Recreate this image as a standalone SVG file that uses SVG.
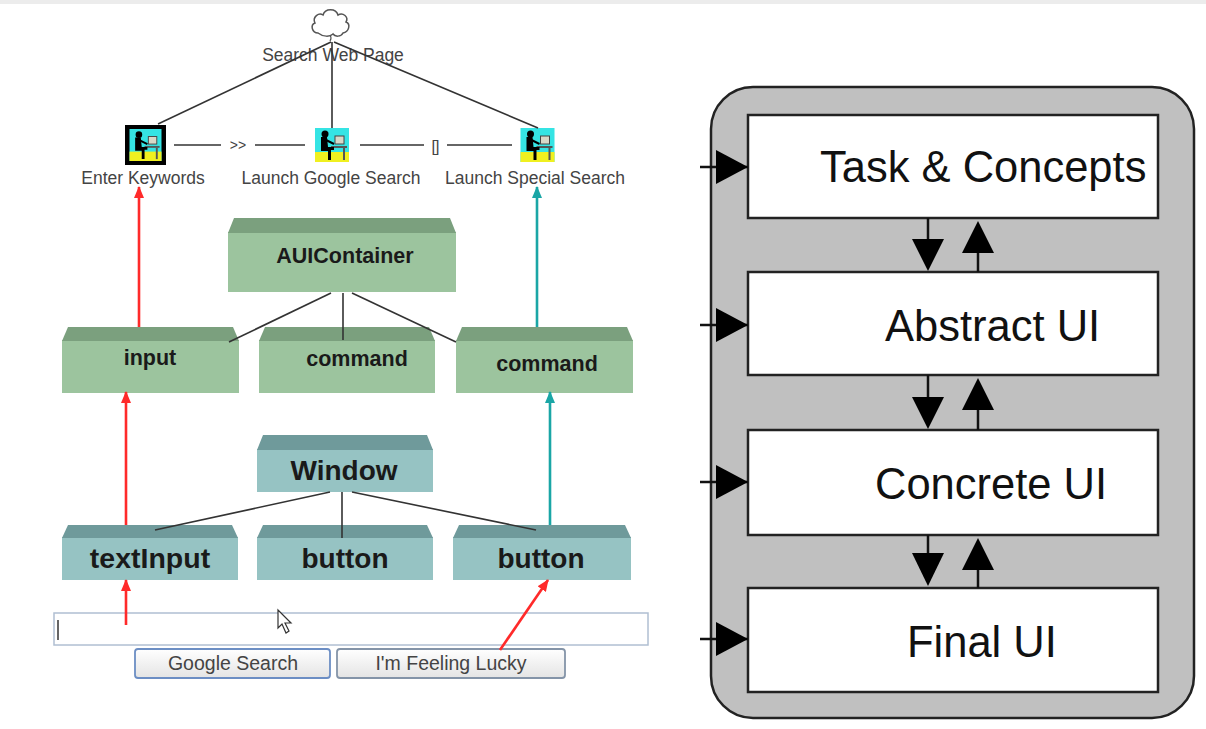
<svg xmlns="http://www.w3.org/2000/svg" width="1206" height="729" viewBox="0 0 1206 729">
<style>
.lbl{font-family:"Liberation Sans",Arial,sans-serif;font-size:17.5px;fill:#444}
.bx{font-family:"Liberation Sans",Arial,sans-serif;font-weight:bold;fill:#1a1a1a;text-anchor:middle}
.g1{fill:#9cc49e}
.g2{fill:#7ba07e}
.t1{fill:#96c3c3}
.t2{fill:#6f9a9b}
.ln{stroke:#333;stroke-width:1.6;fill:none}
.red{stroke:#ff2a2a;stroke-width:2.6;fill:none}
.teal{stroke:#1aa6a6;stroke-width:2.6;fill:none}
.big{font-family:"Liberation Sans",Arial,sans-serif;font-size:43.5px;fill:#111}
.wb{fill:#fff;stroke:#222;stroke-width:2.5}
.blk{fill:#000}
.btn{font-family:"Liberation Sans",Arial,sans-serif;font-size:19.5px;fill:#444;text-anchor:middle}
</style>
<defs>
<marker id="ar" viewBox="0 0 12 10" markerWidth="12" markerHeight="10" refX="11" refY="5" orient="auto" markerUnits="userSpaceOnUse"><path d="M0,0 L12,5 L0,10 z" fill="#ff2a2a"/></marker>
<marker id="at" viewBox="0 0 12 10" markerWidth="12" markerHeight="10" refX="11" refY="5" orient="auto" markerUnits="userSpaceOnUse"><path d="M0,0 L12,5 L0,10 z" fill="#1aa6a6"/></marker>
<symbol id="task" viewBox="0 0 34 34">
<rect width="34" height="34" fill="#35e4e4"/>
<rect y="24" width="34" height="10" fill="#f0f020"/>
<rect x="20" y="8" width="9" height="8" fill="#d8d8c8" stroke="#444" stroke-width="1"/>
<rect x="16" y="18" width="16" height="2" fill="#555"/>
<rect x="28" y="20" width="2" height="12" fill="#555"/>
<circle cx="10" cy="6" r="3.5" fill="#000"/>
<path d="M6,9 h6 l1,10 h6 v3 h-3 v10 h-3 v-9 h-7 z" fill="#000"/>
<path d="M11,12 l8,4" stroke="#000" stroke-width="2"/>
</symbol>
<linearGradient id="bg" x1="0" y1="0" x2="0" y2="1"><stop offset="0" stop-color="#ffffff"/><stop offset="1" stop-color="#e4e4e4"/></linearGradient>
</defs>
<rect width="1206" height="729" fill="#fff"/>
<rect width="1206" height="4" fill="#ececec"/>

<g id="search-web-page">
<path d="M318,33 c-6,0 -8,-8 -3,-10 c-3,-6 4,-11 8,-8 c2,-7 13,-7 15,0 c5,-3 11,2 8,7 c5,2 3,10 -3,11 c-2,4 -8,4 -10,1 c-3,3 -10,3 -15,-1 z" fill="#fff" stroke="#555" stroke-width="1.5"/>
<path d="M330,35 q2,3 0,6" stroke="#555" stroke-width="1.2" fill="none"/>
<text class="lbl" x="333" y="61" text-anchor="middle">Search Web Page</text>
</g>
<g id="enter-keywords">
<rect x="125" y="125" width="41" height="40" fill="#000"/>
<use href="#task" x="129" y="129" width="33" height="32"/>
<text class="lbl" x="143" y="184" text-anchor="middle">Enter Keywords</text>
</g>
<text class="lbl" x="238" y="150" text-anchor="middle" style="font-size:14px">&gt;&gt;</text>
<g id="launch-google-search">
<use href="#task" x="315" y="128" width="34" height="34"/>
<text class="lbl" x="331" y="184" text-anchor="middle">Launch Google Search</text>
</g>
<text class="lbl" x="435" y="152" text-anchor="middle" style="font-size:16px;letter-spacing:-1px">[]</text>
<g id="launch-special-search">
<use href="#task" x="520" y="128" width="35" height="34"/>
<text class="lbl" x="535" y="184" text-anchor="middle">Launch Special Search</text>
</g>

<g id="auicontainer">
<rect class="g1" x="228" y="232" width="228" height="60"/>
<polygon class="g2" points="228,233 234,218 450,218 456,233"/>
<text class="bx" x="345" y="263" style="font-size:21.5px">AUIContainer</text>
</g>
<g id="input">
<rect class="g1" x="62" y="340" width="177" height="53"/>
<polygon class="g2" points="62,341 68,327 233,327 239,341"/>
<text class="bx" x="150" y="365" style="font-size:21.5px">input</text>
</g>
<g id="command-1">
<rect class="g1" x="259" y="340" width="176" height="53"/>
<polygon class="g2" points="259,341 265,327 429,327 435,341"/>
<text class="bx" x="357" y="366" style="font-size:21.5px">command</text>
</g>
<g id="command-2">
<rect class="g1" x="456" y="340" width="177" height="53"/>
<polygon class="g2" points="456,341 462,327 627,327 633,341"/>
<text class="bx" x="547" y="371" style="font-size:21.5px">command</text>
</g>

<g id="window">
<rect class="t1" x="257" y="449" width="176" height="43"/>
<polygon class="t2" points="257,450 263,435 427,435 433,450"/>
<text class="bx" x="344" y="480" style="font-size:28px">Window</text>
</g>
<g id="textinput">
<rect class="t1" x="62" y="537" width="176" height="43"/>
<polygon class="t2" points="62,538 68,525 232,525 238,538"/>
<text class="bx" x="150" y="568" style="font-size:28.5px">textInput</text>
</g>
<g id="button-1">
<rect class="t1" x="257" y="537" width="176" height="43"/>
<polygon class="t2" points="257,538 263,525 427,525 433,538"/>
<text class="bx" x="345" y="568" style="font-size:28px">button</text>
</g>
<g id="button-2">
<rect class="t1" x="453" y="537" width="178" height="43"/>
<polygon class="t2" points="453,538 459,525 625,525 631,538"/>
<text class="bx" x="541" y="568" style="font-size:28px">button</text>
</g>

<g id="search-form">
<rect x="54" y="613" width="594" height="32" fill="#fff" stroke="#b0bfd2" stroke-width="1.5"/>
<line x1="58" y1="620" x2="58" y2="640" stroke="#333" stroke-width="1.5"/>
<path d="M278,610 L278,628 L282,624 L286,633 L289,631 L285,623 L291,623 Z" fill="#fff" stroke="#333" stroke-width="1.2"/>
</g>
<g id="google-search-button">
<rect x="135" y="649" width="195" height="29" rx="3" fill="url(#bg)" stroke="#6c8ec4" stroke-width="1.8"/>
<text class="btn" x="233" y="670">Google Search</text>
</g>
<g id="feeling-lucky-button">
<rect x="337" y="649" width="228" height="29" rx="3" fill="url(#bg)" stroke="#8494a8" stroke-width="1.8"/>
<text class="btn" x="451" y="670">I'm Feeling Lucky</text>
</g>

<g id="connectors">
<line class="ln" x1="331" y1="42" x2="158" y2="124"/>
<line class="ln" x1="332" y1="42" x2="332" y2="128"/>
<line class="ln" x1="334" y1="42" x2="538" y2="128"/>
<line class="ln" x1="174" y1="145" x2="221" y2="145"/>
<line class="ln" x1="255" y1="145" x2="305" y2="145"/>
<line class="ln" x1="360" y1="145" x2="424" y2="145"/>
<line class="ln" x1="447" y1="145" x2="512" y2="145"/>
<line class="ln" x1="331" y1="293" x2="229" y2="342"/>
<line class="ln" x1="343" y1="293" x2="343" y2="340"/>
<line class="ln" x1="352" y1="293" x2="456" y2="342"/>
<line class="ln" x1="330" y1="492" x2="155" y2="530"/>
<line class="ln" x1="342" y1="492" x2="342" y2="538"/>
<line class="ln" x1="352" y1="492" x2="536" y2="530"/>
<line class="red" x1="139" y1="327" x2="139" y2="187" marker-end="url(#ar)"/>
<line class="red" x1="126" y1="525" x2="126" y2="392" marker-end="url(#ar)"/>
<line class="red" x1="126" y1="625" x2="126" y2="580" marker-end="url(#ar)"/>
<line class="red" x1="500" y1="650" x2="548" y2="580" marker-end="url(#ar)"/>
<line class="teal" x1="537" y1="327" x2="537" y2="187" marker-end="url(#at)"/>
<line class="teal" x1="550" y1="525" x2="550" y2="392" marker-end="url(#at)"/>
</g>

<g id="frame">
<rect x="711" y="87" width="483" height="631" rx="42" fill="#c0c0c0" stroke="#222" stroke-width="2.5"/>
</g>
<g id="task-concepts">
<rect class="wb" x="748" y="115" width="410" height="103"/>
<text class="big" x="820" y="182">Task &amp; Concepts</text>
</g>
<g id="abstract-ui">
<rect class="wb" x="748" y="272" width="410" height="103"/>
<text class="big" x="885" y="341">Abstract UI</text>
</g>
<g id="concrete-ui">
<rect class="wb" x="748" y="430" width="410" height="105"/>
<text class="big" x="875" y="499">Concrete UI</text>
</g>
<g id="final-ui">
<rect class="wb" x="748" y="588" width="410" height="104"/>
<text class="big" x="907" y="657">Final UI</text>
</g>
<g id="right-connectors">
<g stroke="#111" stroke-width="2.5">
<line x1="700" y1="167" x2="748" y2="167"/>
<line x1="700" y1="325" x2="748" y2="325"/>
<line x1="700" y1="482" x2="748" y2="482"/>
<line x1="700" y1="639" x2="748" y2="639"/>
<line x1="928" y1="218" x2="928" y2="240"/>
<line x1="978" y1="253" x2="978" y2="272"/>
<line x1="928" y1="375" x2="928" y2="397"/>
<line x1="978" y1="410" x2="978" y2="430"/>
<line x1="928" y1="535" x2="928" y2="554"/>
<line x1="978" y1="570" x2="978" y2="588"/>
</g>
<polygon class="blk" points="716,150 748,167 716,184"/>
<polygon class="blk" points="716,308 748,325 716,342"/>
<polygon class="blk" points="716,465 748,482 716,499"/>
<polygon class="blk" points="716,622 748,639 716,656"/>
<polygon class="blk" points="912,239 944,239 928,271"/>
<polygon class="blk" points="962,253 994,253 978,221"/>
<polygon class="blk" points="912,397 944,397 928,429"/>
<polygon class="blk" points="962,410 994,410 978,378"/>
<polygon class="blk" points="912,553 944,553 928,586"/>
<polygon class="blk" points="962,570 994,570 978,538"/>
</g>
</svg>
